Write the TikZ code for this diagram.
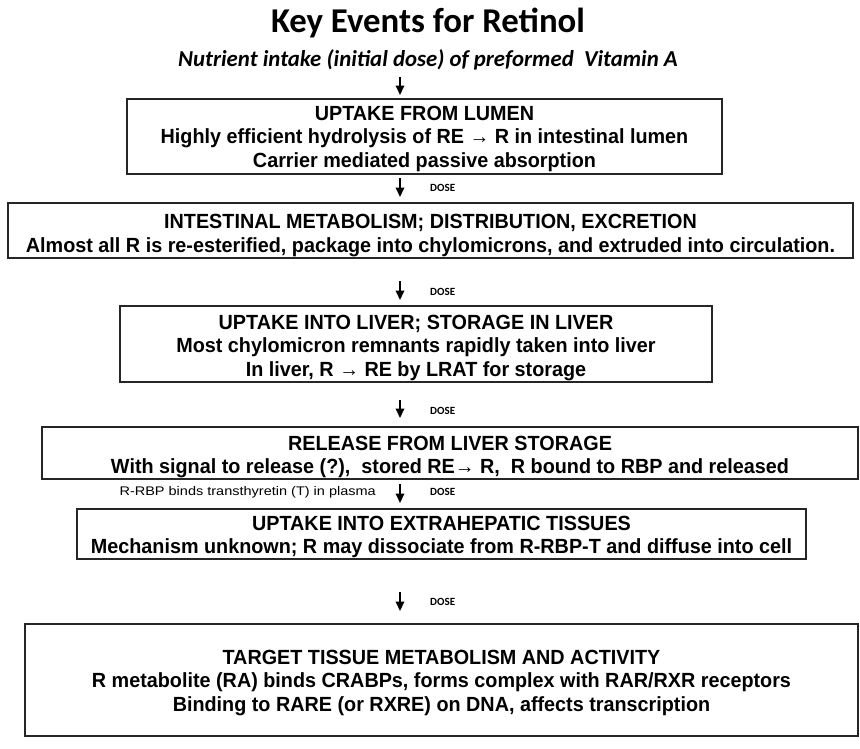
\documentclass[tikz,border=0pt]{standalone}
\usepackage{fontspec}
\setmainfont{Liberation Sans}
\newfontfamily\boxfont{Liberation Sans}[FakeStretch=0.965]
\newfontfamily\labfont{Liberation Sans}[FakeStretch=1.16]
\newfontfamily\titlefont{Carlito}
\usetikzlibrary{arrows.meta}
\tikzset{
  evbox/.style={draw=black!85, line width=1.5pt, inner sep=0pt},
  evtext/.style={inner sep=0pt, align=center,
    font=\boxfont\bfseries\fontsize{20.5}{23.5}\selectfont},
  flow/.style={line width=2pt, -{Triangle[width=8.5pt,length=9.5pt]}},
  dose/.style={font=\titlefont\bfseries\fontsize{11}{12}\selectfont, anchor=west, inner sep=0pt},
}
\begin{document}
\begin{tikzpicture}[x=1pt,y=-1pt]
\useasboundingbox (0,0) rectangle (860,748);
\node[font=\titlefont\bfseries\fontsize{34.8}{38}\selectfont] (title) at (428,23) {Key Events for Retinol};
\node[font=\titlefont\bfseries\itshape\fontsize{22.8}{26}\selectfont] (intake) at (428,60) {Nutrient intake (initial dose) of preformed\ \ Vitamin A};

\node[evbox, minimum width=595pt, minimum height=75pt] (b1) at (424.5,136.5) {};
\node[evtext] (t1) at ([yshift=-2pt]b1.center)
  {UPTAKE FROM LUMEN\\Highly efficient hydrolysis of RE \textrightarrow{} R in intestinal lumen\\Carrier mediated passive absorption};
\node[evbox, minimum width=845pt, minimum height=55pt] (b2) at (430.5,230.5) {};
\node[evtext] (t2) at ([yshift=-5pt]b2.center)
  {INTESTINAL METABOLISM; DISTRIBUTION, EXCRETION\\Almost all R is re-esterified, package into chylomicrons, and extruded into circulation.};
\node[evbox, minimum width=592pt, minimum height=76pt] (b3) at (416,344) {};
\node[evtext] (t3) at ([yshift=-4pt]b3.center)
  {UPTAKE INTO LIVER; STORAGE IN LIVER\\Most chylomicron remnants rapidly taken into liver\\In liver, R \textrightarrow{} RE by LRAT for storage};
\node[evbox, minimum width=816pt, minimum height=52pt] (b4) at (450,453) {};
\node[evtext] (t4) at ([yshift=-4pt]b4.center)
  {RELEASE FROM LIVER STORAGE\\With signal to release (?),\ \ stored RE\textrightarrow{} R,\ \ R bound to RBP and released};
\node[evbox, minimum width=729pt, minimum height=50pt] (b5) at (441.5,534) {};
\node[evtext] (t5) at ([yshift=-3pt]b5.center)
  {UPTAKE INTO EXTRAHEPATIC TISSUES\\Mechanism unknown; R may dissociate from R-RBP-T and diffuse into cell};
\node[evbox, minimum width=833pt, minimum height=112pt] (b6) at (441.5,680) {};
\node[evtext] (t6) at ([yshift=-3pt]b6.center)
  {TARGET TISSUE METABOLISM AND ACTIVITY\\R metabolite (RA) binds CRABPs, forms complex with RAR/RXR receptors\\Binding to RARE (or RXRE) on DNA, affects transcription};

\coordinate (a1s) at (400,77); \coordinate (a1e) at (400,95);
\coordinate (a2s) at (400,178); \coordinate (a2e) at (400,197);
\coordinate (a3s) at (400,281); \coordinate (a3e) at (400,300);
\coordinate (a4s) at (400,400); \coordinate (a4e) at (400,418);
\coordinate (a5s) at (400,484); \coordinate (a5e) at (400,503);
\coordinate (a6s) at (400,592); \coordinate (a6e) at (400,611);
\draw[flow] (a1s) -- (a1e);
\draw[flow] (a2s) -- (a2e);
\draw[flow] (a3s) -- (a3e);
\draw[flow] (a4s) -- (a4e);
\draw[flow] (a5s) -- (a5e);
\draw[flow] (a6s) -- (a6e);
\node[dose] (d2) at (430,188) {DOSE};
\node[dose] (d3) at (430,292) {DOSE};
\node[dose] (d4) at (430,411) {DOSE};
\node[dose] (d5) at (430,492) {DOSE};
\node[dose] (d6) at (430,602) {DOSE};
\node[font=\labfont\fontsize{12.5}{14}\selectfont, anchor=east, inner sep=0pt] (lab) at (376,492) {R-RBP binds transthyretin (T) in plasma};
\end{tikzpicture}
\end{document}
